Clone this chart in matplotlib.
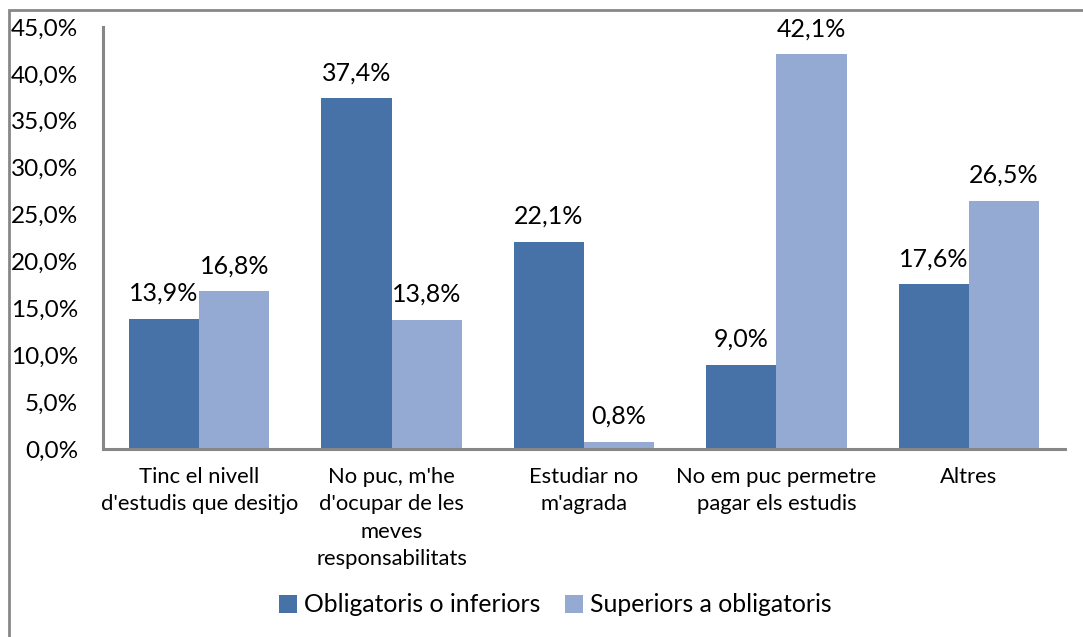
import matplotlib
matplotlib.use('Agg')
import matplotlib.pyplot as plt
import numpy as np
from matplotlib.patches import Rectangle

categories = ["Tinc el nivell\nd'estudis que desitjo",
              "No puc, m'he\nd'ocupar de les\nmeves\nresponsabilitats",
              "Estudiar no\nm'agrada",
              "No em puc permetre\npagar els estudis",
              "Altres"]
obligatoris = [13.9, 37.4, 22.1, 9.0, 17.6]
superiors = [16.8, 13.8, 0.8, 42.1, 26.5]
series_names = ['Obligatoris o inferiors', 'Superiors a obligatoris']
yticks = [0, 5, 10, 15, 20, 25, 30, 35, 40, 45]

DARK = '#4672A7'
LIGHT = '#95AAD2'
GREY = '#878787'

plt.rcParams['font.family'] = ['Lato', 'DejaVu Sans']

fig = plt.figure(figsize=(10.83, 6.37), dpi=100)
ax = fig.add_axes([0.0951, 0.2951, 0.8883, 0.6625])

# outer chart frame (only top and left edges visible)
fig.add_artist(Rectangle((9 / 1083, -0.1), 1.2, 1 - 10 / 637 + 0.1,
                         transform=fig.transFigure, fill=False,
                         edgecolor=GREY, linewidth=2))

x = np.arange(len(categories))
w = 0.365
b1 = ax.bar(x - w / 2, obligatoris, w, color=DARK, label=series_names[0])
b2 = ax.bar(x + w / 2, superiors, w, color=LIGHT, label=series_names[1])

def fmt(v):
    return f'{v:.1f}%'.replace('.', ',')

for bars, vals in [(b1, obligatoris), (b2, superiors)]:
    for r, v in zip(bars, vals):
        ax.annotate(fmt(v), (r.get_x() + r.get_width() / 2, v),
                    xytext=(0, 10), textcoords='offset points',
                    ha='center', va='bottom', fontsize=18, color='black')

ax.set_xlim(-0.5, len(categories) - 0.5)
ax.set_ylim(0, 45)
ax.set_yticks(yticks, [fmt(t) for t in yticks], fontsize=17.5)
ax.set_xticks(x, categories, fontsize=15.8, linespacing=1.46)
ax.tick_params(axis='y', length=0, pad=18)
ax.tick_params(axis='x', length=0, pad=13)

for s in ['top', 'right']:
    ax.spines[s].set_visible(False)
for s in ['left', 'bottom']:
    ax.spines[s].set_color(GREY)
    ax.spines[s].set_linewidth(2.2)

fig.legend(handles=[b1, b2], labels=series_names, loc='center',
           bbox_to_anchor=(0.513, 1 - 605 / 637), ncol=2, frameon=False,
           fontsize=17.8, handlelength=0.7, handleheight=0.7,
           handletextpad=0.3, columnspacing=1.0)

fig.savefig('out.png', dpi=100)
